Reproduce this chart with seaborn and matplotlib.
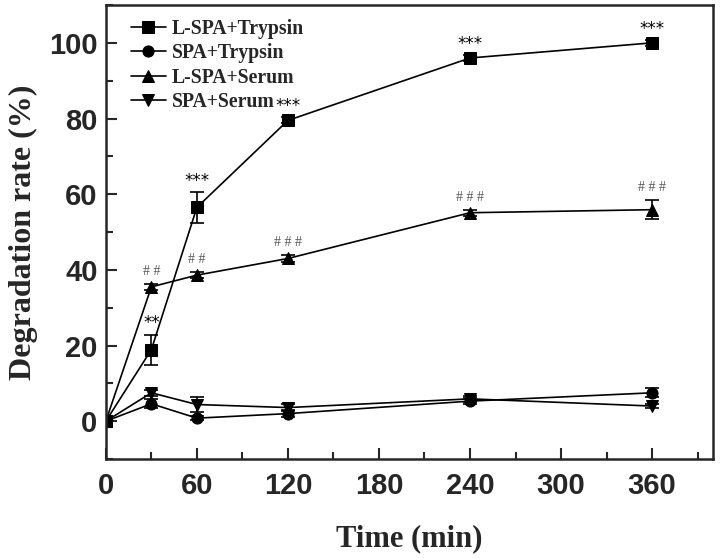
import matplotlib
matplotlib.use("Agg")
import matplotlib.pyplot as plt
from matplotlib.ticker import MultipleLocator
import seaborn as sns
import pandas as pd

time = [0, 30, 60, 120, 240, 360]
series_names = ["L-SPA+Trypsin", "SPA+Trypsin", "L-SPA+Serum", "SPA+Serum"]
lspa_trypsin = [0, 18.9, 56.5, 79.5, 96.0, 100.0]
spa_trypsin = [0, 4.6, 0.8, 2.0, 5.3, 7.5]
lspa_serum = [0, 35.5, 38.6, 43.0, 55.1, 55.9]
spa_serum = [0, 7.5, 4.4, 3.6, 5.9, 4.0]
err_lspa_trypsin = [0, 4.0, 4.0, 0.8, 0.8, 0.8]
err_spa_trypsin = [0, 1.2, 0.6, 1.0, 0.8, 1.2]
err_lspa_serum = [0, 0.8, 0.8, 0.8, 0.8, 2.5]
err_spa_serum = [1.0, 0.8, 2.0, 1.0, 0.8, 0.6]
star_labels = ["", "**", "***", "***", "***", "***"]
hash_labels = ["", "# #", "# #", "# # #", "# # #", "# # #"]

values = [lspa_trypsin, spa_trypsin, lspa_serum, spa_serum]
errors = [err_lspa_trypsin, err_spa_trypsin, err_lspa_serum, err_spa_serum]
markers = ["s", "o", "^", "v"]

rows = []
for name, vals in zip(series_names, values):
    for t, v in zip(time, vals):
        rows.append({"Time": t, "Rate": v, "Group": name})
df = pd.DataFrame(rows)

sns.set_style("ticks")
fig = plt.figure(figsize=(7.2, 5.58), dpi=100)
ax = fig.add_axes([0.147, 0.1774, 0.843, 0.8136])

sns.lineplot(data=df, x="Time", y="Rate", hue="Group", style="Group",
             hue_order=series_names, style_order=series_names,
             palette=["black"] * 4, markers=dict(zip(series_names, markers)),
             dashes=False, markersize=8, linewidth=1.2, markeredgecolor="black",
             ax=ax, legend=True)

for vals, errs in zip(values, errors):
    ax.errorbar(time, vals, yerr=errs, fmt="none", ecolor="black",
                elinewidth=1.2, capsize=5, capthick=1.2)

for t, v, e, lab in zip(time, lspa_trypsin, err_lspa_trypsin, star_labels):
    if lab:
        ax.text(t, v + e + 0.6, lab, ha="center", va="bottom",
                fontsize=12, color="black", family="DejaVu Sans")
for t, v, e, lab in zip(time, lspa_serum, err_lspa_serum, hash_labels):
    if lab:
        ax.text(t, v + e + 1.6, lab, ha="center", va="bottom",
                fontsize=10, color="#555555", family="Liberation Serif")

ax.set_xlim(0, 400)
ax.set_ylim(-10, 110)
ax.xaxis.set_major_locator(MultipleLocator(60))
ax.xaxis.set_minor_locator(MultipleLocator(30))
ax.yaxis.set_minor_locator(MultipleLocator(10))
ax.set_yticks([0, 20, 40, 60, 80, 100])
ax.tick_params(which="major", direction="in", length=8, width=1.5,
               top=False, right=False)
ax.tick_params(which="minor", direction="in", length=5, width=1.5,
               top=False, right=False)
for lab in ax.get_xticklabels() + ax.get_yticklabels():
    lab.set_fontfamily("Liberation Sans")
    lab.set_fontweight("bold")
    lab.set_fontsize(21)
ax.tick_params(axis="x", pad=9)
ax.tick_params(axis="y", pad=6)
for s in ax.spines.values():
    s.set_linewidth(1.8)
    s.set_visible(True)

ax.set_xlabel("Time (min)", fontsize=22, fontweight="bold",
              family="Liberation Serif", labelpad=18)
ax.set_ylabel("Degradation rate (%)", fontsize=23, fontweight="bold",
              family="Liberation Serif", labelpad=8)

leg = ax.legend(loc="upper left", frameon=False,
                prop={"family": "Liberation Serif", "weight": "bold", "size": 14.2},
                handlelength=1.8, handletextpad=0.3, labelspacing=0.22,
                borderaxespad=0.3, bbox_to_anchor=(0.018, 1.0))

fig.savefig("out.png", dpi=100)
